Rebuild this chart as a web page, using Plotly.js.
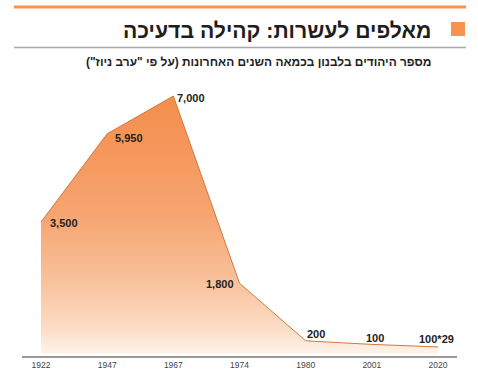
<!DOCTYPE html>
<html>
<head>
<meta charset="utf-8">
<script src="https://cdn.plot.ly/plotly-3.0.1.min.js"></script>
<style>html,body{margin:0;padding:0;background:#fff;}#chart{width:478px;height:376px;}</style>
</head>
<body>
<div id="chart"></div>
<script>
// Data
const years = ['1922', '1947', '1967', '1974', '1980', '2001', '2020'];
const jews = [3500, 5950, 7000, 1800, 200, 100, 29];
const valueLabels = ['3,500', '5,950', '7,000', '1,800', '200', '100', '100*29'];
const titleText = '\u200Fמאלפים לעשרות: קהילה בדעיכה\u200F';
const subtitleText = '\u200Fמספר היהודים בלבנון בכמאה השנים האחרונות (על פי "ערב ניוז")\u200F';

// label placement (style, not data)
const labelPlacement = [
  {xanchor: 'left', xshift: 7, yshift: -1},
  {xanchor: 'left', xshift: 6, yshift: -4},
  {xanchor: 'left', xshift: 2, yshift: -2},
  {xanchor: 'right', xshift: -4, yshift: -1},
  {xanchor: 'left', xshift: -1, yshift: 7},
  {xanchor: 'center', xshift: 3, yshift: 6},
  {xanchor: 'center', xshift: -2, yshift: 8}
];
const baseLevel = -150;
const fontFam = 'Liberation Sans, Arial, sans-serif';

const traces = [
  {
    x: years, y: years.map(() => baseLevel), type: 'scatter', mode: 'lines',
    line: {width: 0, color: 'rgba(0,0,0,0)'}, hoverinfo: 'skip', showlegend: false
  },
  {
    x: years, y: jews, type: 'scatter', mode: 'lines',
    line: {color: '#cf7841', width: 1},
    fill: 'tonexty',
    fillgradient: {
      type: 'vertical', start: baseLevel, stop: 7000,
      colorscale: [[0, '#fef3ea'], [0.1, '#fcdcc4'], [0.27, '#f9c39e'], [0.52, '#f6a673'], [0.8, '#f5965a'], [1, '#f38f4c']]
    },
    showlegend: false
  }
];

const px = v => (v - 22) / 435;
const py = v => (356 - v) / 276;

const annotations = [
  {xref: 'paper', yref: 'paper', x: px(433), y: py(30), xanchor: 'right', yanchor: 'middle', showarrow: false,
   text: titleText, font: {family: fontFam, size: 21.2, color: '#1e1e1e', weight: 'bold'}},
  {xref: 'paper', yref: 'paper', x: px(433), y: py(62), xanchor: 'right', yanchor: 'middle', showarrow: false,
   text: subtitleText, font: {family: fontFam, size: 11.9, color: '#1e1e1e', weight: 'bold'}}
];
years.forEach((yr, i) => {
  const p = labelPlacement[i];
  annotations.push({
    x: i, y: jews[i], xref: 'x', yref: 'y', text: valueLabels[i], showarrow: false,
    xanchor: p.xanchor, yanchor: 'middle', xshift: p.xshift, yshift: p.yshift,
    font: {family: fontFam, size: 11, color: '#222', weight: 'bold'}
  });
});

const layout = {
  width: 478, height: 376,
  margin: {l: 22, r: 21, t: 80, b: 20},
  paper_bgcolor: '#fff', plot_bgcolor: '#fff',
  showlegend: false,
  xaxis: {
    type: 'category', range: [-0.287, 6.287],
    showgrid: false, zeroline: false,
    showline: true, linecolor: '#9a9a9a', linewidth: 2,
    ticks: '', tickfont: {family: fontFam, size: 8.5, color: '#444'},
    fixedrange: true
  },
  yaxis: {
    range: [-222, 7445], visible: false, showgrid: false, zeroline: false, fixedrange: true
  },
  shapes: [
    {type: 'line', xref: 'paper', yref: 'paper', x0: px(14), x1: px(466), y0: py(7), y1: py(7), line: {color: '#f7934c', width: 3}},
    {type: 'rect', xref: 'paper', yref: 'paper', x0: px(451), x1: px(465), y0: py(36), y1: py(22), fillcolor: '#f7934c', line: {width: 0}},
    {type: 'line', xref: 'paper', yref: 'paper', x0: px(14), x1: px(466), y0: py(47.5), y1: py(47.5), line: {color: '#a8a8a8', width: 1.5}}
  ],
  annotations: annotations
};

Plotly.newPlot('chart', traces, layout, {displayModeBar: false, staticPlot: true});
</script>
</body>
</html>
